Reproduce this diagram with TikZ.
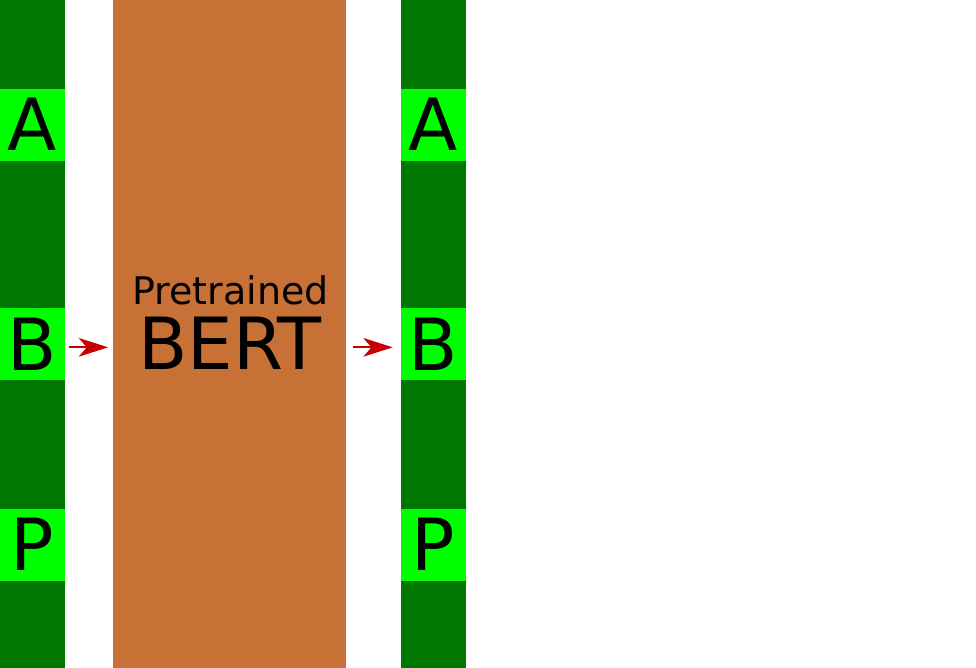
\documentclass[tikz,border=0pt]{standalone}
\usepackage{fontspec}
\setmainfont{DejaVu Sans}
\usetikzlibrary{arrows.meta,positioning}

\definecolor{bardark}{RGB}{0,119,0}
\definecolor{toklight}{RGB}{0,255,0}
\definecolor{bertorange}{RGB}{200,113,55}
\definecolor{flowred}{RGB}{200,0,0}

\begin{document}
\begin{tikzpicture}[x=0.75pt,y=-0.75pt,
    bar/.style={fill=bardark,draw=none,minimum width=48.75pt,minimum height=501pt,inner sep=0pt},
    tok/.style={fill=toklight,draw=none,minimum width=48.75pt,minimum height=54pt,inner sep=0pt,font=\fontsize{54}{60}\selectfont},
    model/.style={fill=bertorange,draw=none,minimum width=174.75pt,minimum height=501pt,inner sep=0pt},
    flow/.style={flowred,line width=1.5pt,-{Stealth[length=22pt,width=14pt,inset=6pt]}}]
    \useasboundingbox (0,0) rectangle (976,668);

    % Input column
    \node[bar] (inbar) at (32.5,334) {};
    \foreach \t/\y in {A/124.5,B/344,P/544.5}
        \node[tok] (in\t) at (32.5,\y) {\t};

    % Pretrained model
    \node[model] (bert) at (229.5,334) {};
    \node[font=\fontsize{28.5}{32}\selectfont] (bertsub) at (230.5,290.5) {Pretrained};
    \node[font=\fontsize{54}{60}\selectfont] (berttitle) at (230,343) {BERT};

    % Output column
    \node[bar] (outbar) at (433.5,334) {};
    \foreach \t/\y in {A/124.5,B/344,P/544.5}
        \node[tok] (out\t) at (433.5,\y) {\t};

    % Arrows
    \draw[flow,shorten <=3pt,shorten >=3.5pt] ([yshift=-2.5pt]inB.east) -- ([yshift=-2.5pt]inB.east -| bert.west);
    \draw[flow,shorten <=5pt,shorten >=6pt] ([yshift=-2.5pt]bert.east |- inB.east) -- ([yshift=-2.5pt]outB.west);
\end{tikzpicture}
\end{document}
